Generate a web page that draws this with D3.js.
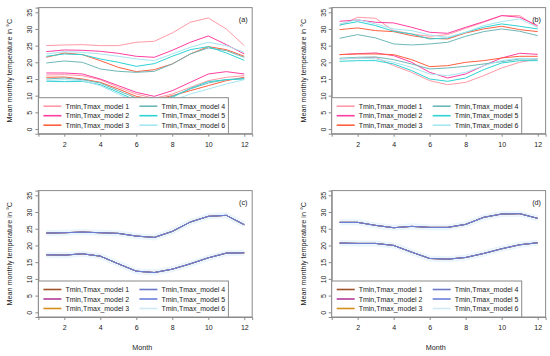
<!DOCTYPE html>
<meta charset="utf-8">
<style>
  body { margin: 0; background: #fff; }
  svg text { font-family: 'Liberation Sans', Arial, sans-serif; fill: #222; }
</style>
<body>
<script src="https://cdn.jsdelivr.net/npm/d3@7"></script>
<script>
  var width = 550,
    height = 356;

  // months on the x axis
  var months = [1, 2, 3, 4, 5, 6, 7, 8, 9, 10, 11, 12];
  var xTicks = [2, 4, 6, 8, 10, 12];
  var yTicks = [0, 5, 10, 15, 20, 25, 30, 35];
  var modelNames = ["Tmin,Tmax_model 1", "Tmin,Tmax_model 2", "Tmin,Tmax_model 3",
    "Tmin,Tmax_model 4", "Tmin,Tmax_model 5", "Tmin,Tmax_model 6"];

  // panel (a), one row per model
  var aTmax = [
    [25, 25.2, 25.3, 25, 25, 26, 26.3, 28.8, 32, 33.3, 30, 25],
    [23.2, 23.7, 23.6, 23.3, 22.7, 21.8, 21.5, 23.6, 26, 27.9, 25.3, 22.5],
    [21.5, 22.8, 22.3, 20.5, 18.5, 17.2, 17.8, 19.5, 22.5, 24.7, 23.8, 21.8],
    [19.8, 20.4, 20, 18, 17.3, 17, 17.3, 19.5, 22.5, 24.3, 23.5, 21.5],
    [21.8, 22.5, 22.3, 21, 20, 18.8, 19.6, 21.8, 23.8, 24.7, 22.8, 20.6],
    [22.5, 23.2, 23, 22.5, 21.8, 21, 20.5, 22.5, 24.5, 26, 25, 23]
  ];
  var aTmin = [
    [16.2, 16.3, 16, 14.8, 12.5, 10.5, 9.2, 10.5, 12.5, 14.5, 15.5, 16],
    [16.8, 16.8, 16.5, 15, 13, 11, 9.8, 11.5, 14, 16.5, 17.2, 16.5],
    [15.5, 15.6, 15, 14, 12, 9.8, 8.8, 10, 11.5, 13, 14.5, 15.5],
    [15, 15.3, 14.8, 13.8, 11.5, 9.3, 8.2, 9.8, 12, 13.8, 14.8, 15.2],
    [14.3, 14.2, 14.3, 13.3, 11, 8.5, 7.5, 9.5, 12.2, 14.2, 14.8, 15],
    [14.5, 14.8, 14.5, 13, 10.5, 8, 7, 8.5, 10.5, 12, 13.5, 14.8]
  ];

  // panel (b)
  var bTmax = [
    [31, 33.5, 33.2, 29.5, 28.5, 27.8, 28.3, 30.2, 32, 34, 34, 30.5],
    [32.3, 32.7, 32, 31.8, 30.5, 29, 28.7, 30.5, 32.2, 34, 33.5, 31],
    [29.8, 30.3, 29.5, 29.2, 28, 27.2, 27, 28.8, 30, 30.8, 29.8, 29.2],
    [27.2, 28.3, 27.3, 25.5, 25.2, 25.5, 26, 27.8, 29.2, 30, 29.3, 28],
    [31.2, 32.2, 31, 29.3, 28.5, 27, 27.3, 29, 30.5, 31.5, 30.8, 30],
    [31.5, 32.8, 31.5, 30, 29.5, 28.2, 27.5, 29, 31, 32.2, 33, 30.5]
  ];
  var bTmin = [
    [21, 21.2, 21.5, 19, 17, 14.5, 13.3, 14, 16, 18.3, 20, 21],
    [22.3, 22.6, 22.8, 22, 20, 17, 15.3, 16.5, 19, 21.3, 22.7, 22.4],
    [22.3, 22.5, 22.5, 22.3, 20.8, 18.7, 19, 20, 20.5, 21.3, 21.8, 21.8],
    [21.2, 21.5, 21.6, 20.8, 19.5, 18, 18.3, 18.8, 19.5, 20.2, 21, 21],
    [20.3, 20.5, 20.5, 19.5, 17.5, 15, 14.3, 15.3, 17.8, 19.8, 20.5, 20.5],
    [21, 21.3, 21, 20, 18.5, 16.5, 16, 17, 19, 20.5, 21.2, 21]
  ];

  // panels (c) and (d): all six models lie on top of each other
  var cTmax = [23.7, 23.8, 24, 23.8, 23.6, 22.8, 22.4, 24.2, 27, 28.7, 29, 26.2];
  var cTmin = [17.2, 17.1, 17.5, 16.8, 14.5, 12.3, 11.9, 12.9, 14.5, 16.3, 17.7, 17.8];
  var dTmax = [26.9, 26.9, 26, 25.3, 25.7, 25.4, 25.4, 26.3, 28.4, 29.4, 29.5, 28.1];
  var dTmin = [20.7, 20.6, 20.6, 20, 18, 16.1, 15.9, 16.4, 17.6, 19, 20.2, 20.8];

  var warm = ["#ff9aa8", "#ff3fa0", "#ff6040", "#6fb8b8", "#2fd3d3", "#a6e6f2"];
  var cool = ["#a0522d", "#b03a9a", "#d4901a", "#6a78c8", "#6b7fd8", "#cfeaf5"];

  var panels = [
    {label: "(a)", x0: 38.4, x1: 252.2, y0: 7.6, y1: 133.7, tmax: aTmax, tmin: aTmin, colors: warm, month: false},
    {label: "(b)", x0: 331.7, x1: 545.6, y0: 7.6, y1: 133.7, tmax: bTmax, tmin: bTmin, colors: warm, month: false},
    {label: "(c)", x0: 38.4, x1: 252.2, y0: 190.6, y1: 317, tmax: modelNames.map(function() { return cTmax }),
      tmin: modelNames.map(function() { return cTmin }), colors: cool, month: true},
    {label: "(d)", x0: 331.7, x1: 545.6, y0: 190.6, y1: 317, tmax: modelNames.map(function() { return dTmax }),
      tmin: modelNames.map(function() { return dTmin }), colors: cool, month: true}
  ];

  var svg = d3.select("body").append("svg")
    .attr("width", width)
    .attr("height", height)

  panels.forEach(function(p) {
    var x = d3.scaleLinear().domain([0.56, 12.44]).range([p.x0, p.x1]);
    var y = d3.scaleLinear().domain([-1.4, 36.4]).range([p.y1, p.y0]);
    var g = svg.append("g");

    var line = d3.line()
      .x(function(d, i) { return x(months[i]) })
      .y(function(d) { return y(d) });

    /* model 6 first in c/d so its pale band sits under the others */
    var order = p.month ? [5, 0, 1, 2, 3, 4] : [0, 1, 2, 3, 4, 5];
    order.forEach(function(k) {
      [p.tmax[k], p.tmin[k]].forEach(function(s) {
        g.append("path")
          .attr("d", line(s))
          .attr("fill", "none")
          .attr("stroke", p.month && k == 5 ? "#eaf6fb" : p.colors[k])
          .attr("stroke-width", p.month && k == 5 ? 6 : 1)
      })
    })

    // box
    g.append("rect")
      .attr("x", p.x0).attr("y", p.y0)
      .attr("width", p.x1 - p.x0).attr("height", p.y1 - p.y0)
      .attr("fill", "none").attr("stroke", "#8a8a8a").attr("stroke-width", 1)

    // axes
    var ya = g.append("g").attr("transform", "translate(" + p.x0 + ",0)")
      .call(d3.axisLeft(y).tickValues(yTicks).tickSize(3));
    ya.selectAll(".tick text")
      .attr("x", 0).attr("y", 0).attr("dy", 0).attr("dx", 0)
      .attr("text-anchor", "middle")
      .attr("transform", "translate(-6,0) rotate(-90)");
    var xa = g.append("g").attr("transform", "translate(0," + p.y1 + ")")
      .call(d3.axisBottom(x).tickValues(xTicks).tickSize(3).tickPadding(5));
    [ya, xa].forEach(function(a) {
      a.select(".domain").attr("stroke", "#8a8a8a");
      a.selectAll(".tick line").attr("stroke", "#8a8a8a");
      a.selectAll("text").attr("font-size", 7).attr("fill", "#222")
        .style("font-family", "'Liberation Sans', Arial, sans-serif");
    })

    g.append("text")
      .attr("transform", "translate(" + (p.x0 - 26) + "," + ((p.y0 + p.y1) / 2) + ") rotate(-90)")
      .attr("text-anchor", "middle")
      .attr("font-size", 7.2)
      .attr("fill", "#222")
      .text("Mean monthly temperature in °C");

    if (p.month) {
      g.append("text")
        .attr("x", (p.x0 + p.x1) / 2 - 3).attr("y", p.y1 + 33)
        .attr("text-anchor", "middle")
        .attr("font-size", 7.2)
        .attr("fill", "#222")
        .text("Month");
    }

    g.append("text")
      .attr("x", p.x1 - 9).attr("y", p.y0 + 14)
      .attr("text-anchor", "middle")
      .attr("font-size", 7.2)
      .attr("fill", "#222")
      .text(p.label);

    // legend
    var lg = g.append("g").attr("transform", "translate(" + p.x0 + "," + (p.y1 - 36) + ")");
    lg.append("rect")
      .attr("width", 190).attr("height", 36)
      .attr("fill", "#fff").attr("stroke", "#8a8a8a");
    modelNames.forEach(function(name, k) {
      var cx = k < 3 ? 5 : 101,
        cy = 8.5 + (k % 3) * 9.5;
      lg.append("line")
        .attr("x1", cx).attr("x2", cx + 18)
        .attr("y1", cy).attr("y2", cy)
        .attr("stroke", p.colors[k]).attr("stroke-width", 1.6);
      lg.append("text")
        .attr("x", cx + 22).attr("y", cy + 2.5)
        .attr("font-size", 7)
        .attr("fill", "#222")
        .text(name);
    })
  })
</script>
</body>
